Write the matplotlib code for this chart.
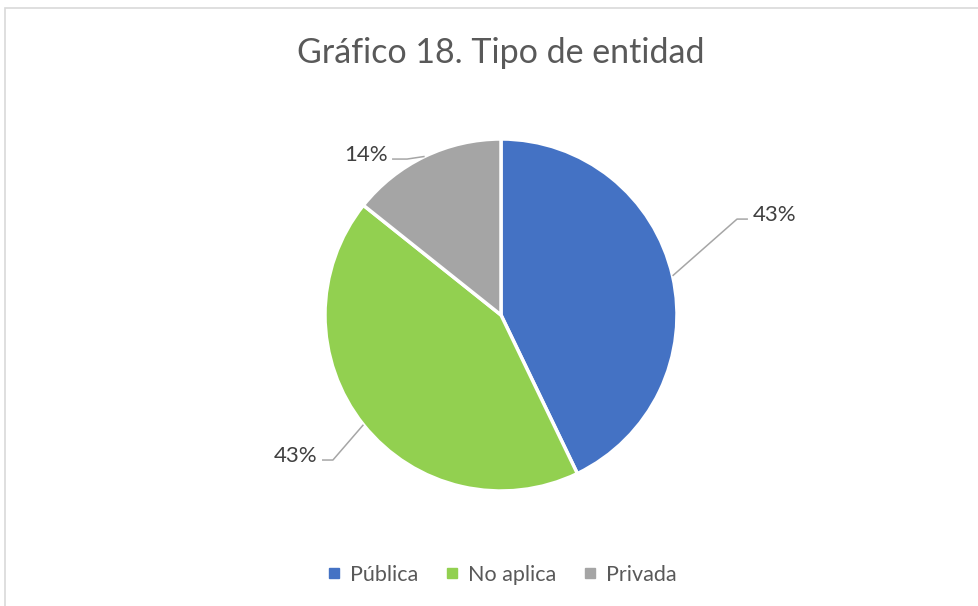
import matplotlib
matplotlib.use("Agg")
import matplotlib.pyplot as plt
from matplotlib.patches import Rectangle
from matplotlib.lines import Line2D
import numpy as np

# data
categorias = ["Pública", "No aplica", "Privada"]
valores = [3, 3, 1]
colores = ["#4472C4", "#92D050", "#A5A5A5"]
titulo = "Gráfico 18. Tipo de entidad"

# label placement (elbow x, elbow y, end x, text side) in pie units
label_pos = [(1.341, 0.545, 1.403, "left"),
             (-0.955, -0.824, -1.017, "right"),
             (-0.534, 0.886, -0.619, "right")]

plt.rcParams['font.family'] = ['Lato', 'DejaVu Sans']

fig = plt.figure(figsize=(9.79, 6.06), dpi=100)
fig.patch.set_facecolor("white")

# chart frame
fig.patches.append(Rectangle((5 / 979, -0.1), 1.2, (606 - 8) / 606 + 0.1,
                             transform=fig.transFigure, fill=False,
                             edgecolor="#D9D9D9", lw=1.2))

ax = fig.add_axes([(501 - 176) / 979, (606 - 315 - 176) / 606, 352 / 979, 352 / 606])
wedges, _ = ax.pie(valores, colors=colores, startangle=90, counterclock=False,
                   radius=1.0, wedgeprops=dict(edgecolor="white", linewidth=2.5))
ax.set_xlim(-1, 1)
ax.set_ylim(-1, 1)
ax.set_aspect("equal")
ax.axis("off")

total = sum(valores)
for w, v, (ex, ey, hx, side) in zip(wedges, valores, label_pos):
    ang = np.deg2rad((w.theta1 + w.theta2) / 2)
    x0, y0 = np.cos(ang), np.sin(ang)
    ax.plot([x0, ex, hx], [y0, ey, ey], color="#A6A6A6", lw=1.1,
            clip_on=False, solid_capstyle="butt")
    pct = "{:.0f}%".format(100 * v / total)
    tx = hx + (0.025 if side == "left" else -0.025)
    ax.text(tx, ey + 0.025, pct, ha=side, va="center", fontsize=16,
            color="#404040", clip_on=False)

fig.text(0.5118, 1 - 53 / 606, titulo, ha="center", va="center",
         fontsize=24.5, color="#595959")

handles = [Line2D([0], [0], marker="s", linestyle="none", markersize=7,
                  markerfacecolor=c, markeredgecolor=c) for c in colores]
fig.legend(handles, categorias, loc="center", bbox_to_anchor=(0.5118, 1 - 575 / 606),
           ncol=3, frameon=False, fontsize=15.5, handlelength=0.8,
           handletextpad=0.35, columnspacing=1.15, labelcolor="#595959")

fig.savefig("out.png", dpi=100, facecolor="white")
